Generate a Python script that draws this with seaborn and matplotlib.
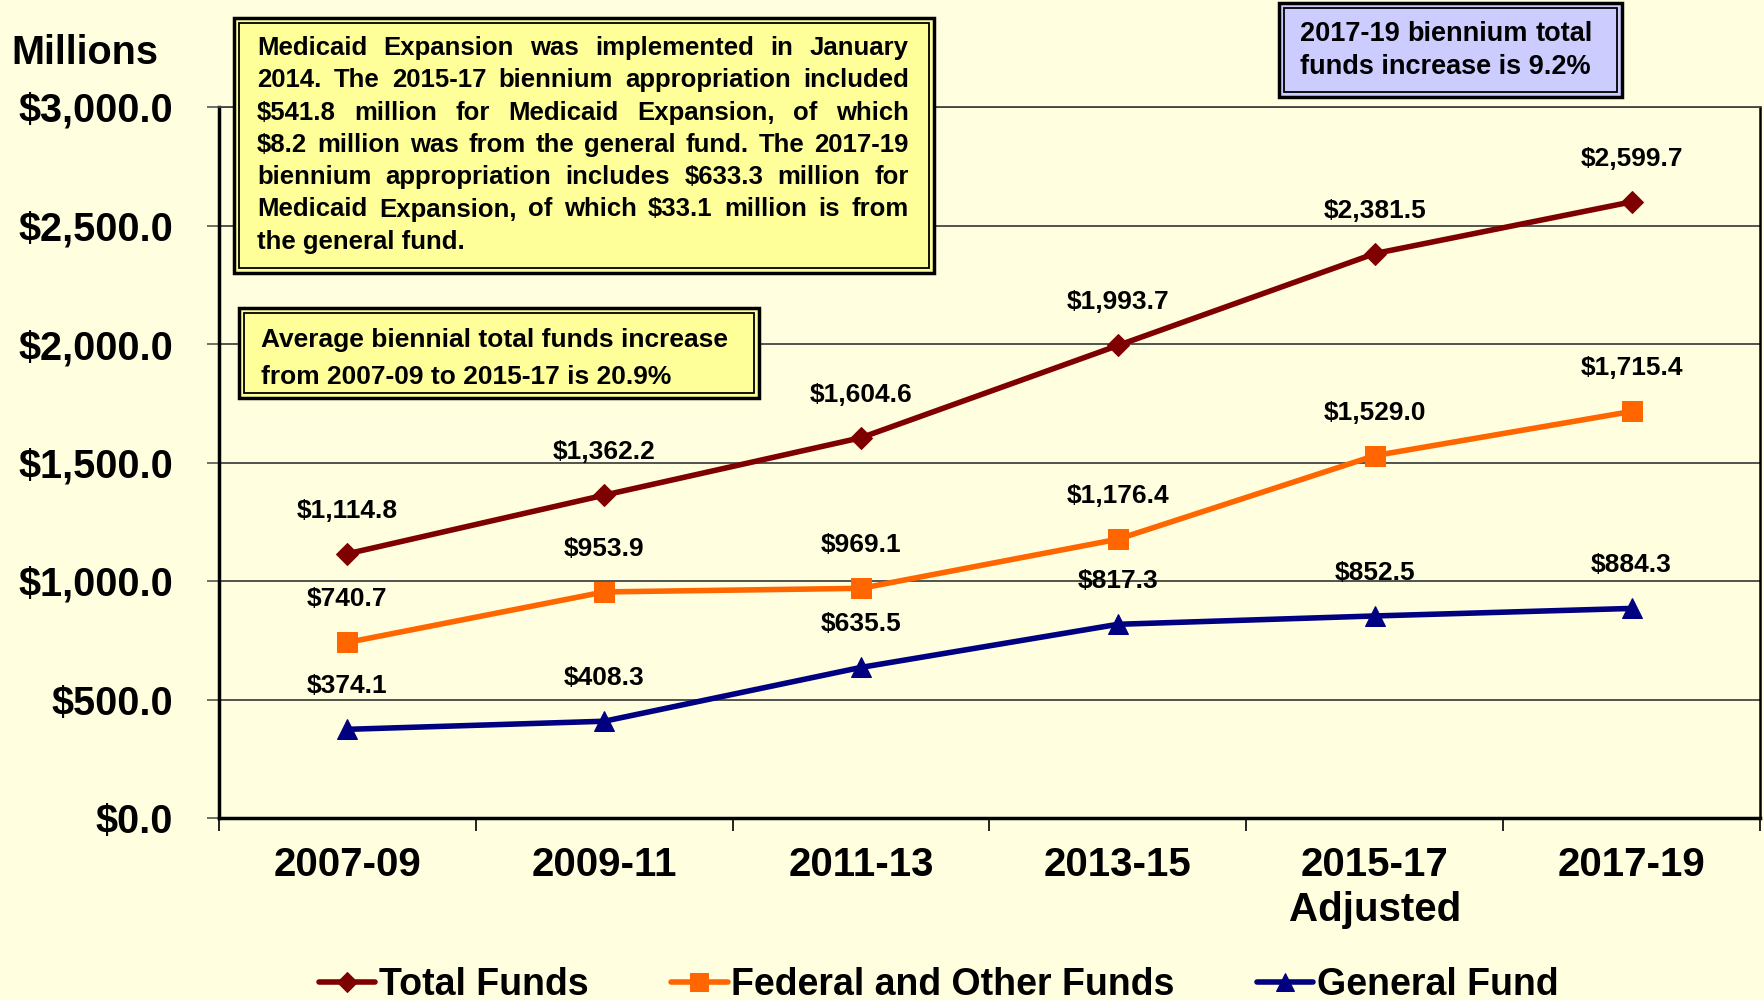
import matplotlib
matplotlib.use("Agg")
import numpy as np
import pandas as pd
import matplotlib.pyplot as plt
from matplotlib.patches import Rectangle
import seaborn as sns

# chart values
bienniums = ["2007-09", "2009-11", "2011-13", "2013-15", "2015-17\nAdjusted", "2017-19"]
total_funds = [1114.8, 1362.2, 1604.6, 1993.7, 2381.5, 2599.7]
federal_other = [740.7, 953.9, 969.1, 1176.4, 1529.0, 1715.4]
general_fund = [374.1, 408.3, 635.5, 817.3, 852.5, 884.3]
y_ticks = [0, 500, 1000, 1500, 2000, 2500, 3000]

series_names = ["Total Funds", "Federal and Other Funds", "General Fund"]

box1_lines = [
    "Medicaid Expansion was implemented in January",
    "2014. The 2015-17 biennium appropriation included",
    "$541.8 million for Medicaid Expansion, of which",
    "$8.2 million was from the general fund. The 2017-19",
    "biennium appropriation includes $633.3 million for",
    "Medicaid Expansion, of which $33.1 million is from",
    "the general fund.",
]
box2_lines = ["Average biennial total funds increase",
              "from 2007-09 to 2015-17 is 20.9%"]
box3_lines = ["2017-19 biennium total", "funds increase is 9.2%"]

W, H = 1765, 1000
BG = "#FFFFE0"

sns.set_theme(style="ticks")
plt.rcParams['font.family'] = ['Liberation Sans', 'DejaVu Sans']
plt.rcParams['font.weight'] = 'bold'
for key in ["text.color", "axes.labelcolor", "xtick.labelcolor", "ytick.labelcolor"]:
    plt.rcParams[key] = "black"


def px(x, y):
    """pixel coords (from top left) -> figure fraction"""
    return x / W, 1 - y / H


def draw_box(fig, x0, y0, x1, y1, face):
    fig.add_artist(Rectangle(px(x0, y1), (x1 - x0) / W, (y1 - y0) / H,
                             transform=fig.transFigure, facecolor=face,
                             edgecolor="black", lw=2.5, zorder=2))
    inset = 5
    fig.add_artist(Rectangle(px(x0 + inset, y1 - inset), (x1 - x0 - 2 * inset) / W,
                             (y1 - y0 - 2 * inset) / H, transform=fig.transFigure,
                             facecolor="none", edgecolor="black", lw=1.3, zorder=2))


def justify_lines(fig, lines, x0, x1, baselines, size, justify=True):
    r = fig.canvas.get_renderer()
    for i, (line, yb) in enumerate(zip(lines, baselines)):
        words = line.split()
        last = i == len(lines) - 1
        if not justify or last or len(words) == 1:
            fig.text(*px(x0, yb), line, fontsize=size, fontweight="bold",
                     ha="left", va="baseline", zorder=3)
            continue
        items = [fig.text(0, 0, w, fontsize=size, fontweight="bold",
                          ha="left", va="baseline", zorder=3) for w in words]
        widths = [t.get_window_extent(r).width for t in items]
        gap = (x1 - x0 - sum(widths)) / (len(words) - 1)
        x = x0
        for t, w in zip(items, widths):
            t.set_position(px(x, yb))
            x += w + gap


df = pd.DataFrame({
    "pos": list(range(len(bienniums))) * 3,
    "value": total_funds + federal_other + general_fund,
    "series": np.repeat(series_names, len(bienniums)),
})

colors = {"Total Funds": "#7F0000", "Federal and Other Funds": "#FF6600",
          "General Fund": "#000080"}
markers = {"Total Funds": "D", "Federal and Other Funds": "s", "General Fund": "^"}
msizes = {"Total Funds": 11.5, "Federal and Other Funds": 15, "General Fund": 15}

fig = plt.figure(figsize=(W / 100, H / 100), dpi=100, facecolor=BG)
ax = fig.add_axes([219 / W, 1 - 818 / H, (1760 - 219) / W, (818 - 107) / H])
ax.set_facecolor(BG)

for name in series_names:
    sub = df[df.series == name]
    sns.lineplot(data=sub, x="pos", y="value", ax=ax, color=colors[name],
                 marker=markers[name], markersize=msizes[name],
                 markeredgecolor=colors[name], lw=4, label=name, zorder=4)
    for xv, yv in zip(sub.pos, sub.value):
        ax.annotate(f"${yv:,.1f}", (xv, yv), xytext=(0, 31), textcoords="offset points",
                    ha="center", va="center", fontsize=19, fontweight="bold",
                    color="black", zorder=5)

if ax.get_legend():
    ax.get_legend().remove()

ax.set_xlim(-0.5, len(bienniums) - 0.5)
ax.set_ylim(y_ticks[0], y_ticks[-1])
ax.set_yticks(y_ticks)
ax.set_yticklabels([f"${v:,.1f}" for v in y_ticks], fontsize=28.5, fontweight="bold")
ax.set_xticks(range(len(bienniums)))
ax.set_xticklabels(bienniums, fontsize=29, fontweight="bold", linespacing=1.25)
ax.set_xticks(np.arange(-0.5, len(bienniums)), minor=True)
ax.tick_params(axis="x", which="major", length=0, pad=20)
ax.tick_params(axis="x", which="minor", length=9, width=1.2, color="black", direction="out")
ax.tick_params(axis="y", length=9, width=1.2, color="#555555", direction="out", pad=24)
ax.set_xlabel("")
ax.set_ylabel("")

ax.yaxis.grid(True, color="#444444", lw=1.3)
ax.xaxis.grid(False)
ax.set_axisbelow(True)
for side in ["left", "bottom"]:
    ax.spines[side].set_color("black")
    ax.spines[side].set_linewidth(2.5)
ax.spines["right"].set_color("black")
ax.spines["right"].set_linewidth(1.8)
ax.spines["top"].set_color("#444444")
ax.spines["top"].set_linewidth(1.3)

fig.text(*px(11, 53), "Millions", fontsize=28.5, fontweight="bold", ha="left", va="center")

# text boxes
draw_box(fig, 234, 18, 934, 273, "#FFFF99")
justify_lines(fig, box1_lines, 257, 909, [55 + 32.3 * i for i in range(len(box1_lines))], 18.5)

draw_box(fig, 239, 308, 759, 398, "#FFFF99")
justify_lines(fig, box2_lines, 261, 740, [347, 384], 19, justify=False)

draw_box(fig, 1279, 3, 1622, 97, "#CCCCFF")
justify_lines(fig, box3_lines, 1300, 1593, [41, 74], 19.5)

handles, labels = ax.get_legend_handles_labels()
fig.legend(handles, labels, loc="center", bbox_to_anchor=(0.532, 0.015), ncol=3,
           frameon=False, fontsize=27, handlelength=1.5, handletextpad=0.1,
           columnspacing=2.2, markerscale=0.9)

fig.savefig("out.png", dpi=100, facecolor=BG)
